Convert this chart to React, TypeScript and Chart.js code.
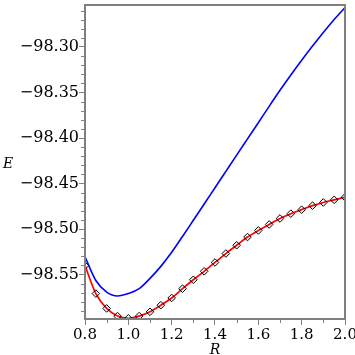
import React, { useEffect, useRef } from 'react';
import { Chart, registerables } from 'chart.js';

Chart.register(...registerables);

const rValues = [0.8, 0.85, 0.9, 0.95, 1.0, 1.05, 1.1, 1.15, 1.2, 1.25, 1.3, 1.35, 1.4, 1.45, 1.5, 1.55, 1.6, 1.65, 1.7, 1.75, 1.8, 1.85, 1.9, 1.95, 2.0];
const blueE = [-98.5305, -98.5565, -98.5692, -98.5735, -98.5709, -98.5655, -98.5542, -98.541, -98.5255, -98.5082, -98.4904, -98.4725, -98.4546, -98.4367, -98.4188, -98.401, -98.3832, -98.3652, -98.3476, -98.3308, -98.3146, -98.299, -98.284, -98.2698, -98.2566];
const redE = [-98.5402, -98.5709, -98.5872, -98.5956, -98.598, -98.5956, -98.5909, -98.5836, -98.5757, -98.5655, -98.5557, -98.5464, -98.5367, -98.5269, -98.5178, -98.5088, -98.5015, -98.495, -98.4884, -98.4831, -98.4787, -98.4743, -98.4708, -98.4679, -98.4651];

const xMajorTicks = [0.8, 1.0, 1.2, 1.4, 1.6, 1.8, 2.0];
const xMinorTicks = [0.9, 1.1, 1.3, 1.5, 1.7, 1.9];
const yMajorTicks = [-98.55, -98.5, -98.45, -98.4, -98.35, -98.3];
const yMinorTicks = [-98.59, -98.58, -98.57, -98.56, -98.54, -98.53, -98.52, -98.51, -98.49, -98.48, -98.47, -98.46, -98.44, -98.43, -98.42, -98.41, -98.39, -98.38, -98.37, -98.36, -98.34, -98.33, -98.32, -98.31, -98.29, -98.28, -98.27, -98.26];
const xRange = [0.8, 2.0];
const yRange = [-98.5988, -98.2539];
const xTitle = 'R';
const yTitle = 'E';

const AXIS_GRAY = '#808080';
const FONT = 'DejaVu Serif';

const framePlugin = {
  id: 'framePlugin',
  afterDraw(chart: any) {
    const { ctx, chartArea } = chart;
    const { left, right, top, bottom } = chartArea;
    const xs = chart.scales.x;
    const ys = chart.scales.y;
    ctx.save();
    ctx.strokeStyle = AXIS_GRAY;
    ctx.lineWidth = 2;
    ctx.strokeRect(Math.round(left), Math.round(top), Math.round(right) - Math.round(left), Math.round(bottom) - Math.round(top));
    ctx.lineWidth = 1;
    ctx.beginPath();
    for (const v of yMinorTicks) {
      const py = Math.round(ys.getPixelForValue(v)) + 0.5;
      ctx.moveTo(Math.round(left) - 4, py);
      ctx.lineTo(Math.round(left), py);
    }
    for (const v of xMinorTicks) {
      const px = Math.round(xs.getPixelForValue(v)) + 0.5;
      ctx.moveTo(px, Math.round(bottom));
      ctx.lineTo(px, Math.round(bottom) + 4);
    }
    ctx.stroke();
    ctx.fillStyle = '#000';
    ctx.font = `italic 14px "${FONT}"`;
    ctx.textAlign = 'center';
    ctx.textBaseline = 'middle';
    ctx.fillText(yTitle, 8, (top + bottom) / 2 + 2);
    ctx.fillText(xTitle, (left + right) / 2, 350);
    ctx.restore();
  },
};

export default function App() {
  const canvasRef = useRef<HTMLCanvasElement | null>(null);

  useEffect(() => {
    const canvas = canvasRef.current;
    if (!canvas) return;
    const chart = new Chart(canvas, {
      type: 'line',
      data: {
        datasets: [
          {
            label: 'red',
            data: rValues.map((r, i) => ({ x: r, y: redE[i] })),
            borderColor: '#ff0000',
            borderWidth: 1.7,
            cubicInterpolationMode: 'monotone',
            pointStyle: 'rectRot',
            pointRadius: 3.8,
            pointBorderColor: '#000000',
            pointBackgroundColor: 'rgba(255,255,255,0)',
            pointBorderWidth: 1,
            fill: false,
          },
          {
            label: 'blue',
            data: rValues.map((r, i) => ({ x: r, y: blueE[i] })),
            borderColor: '#0000ff',
            borderWidth: 1.6,
            cubicInterpolationMode: 'monotone',
            pointRadius: 0,
            fill: false,
          },
        ],
      },
      options: {
        animation: false,
        responsive: false,
        devicePixelRatio: 1,
        layout: { padding: { top: 1, right: 10, left: 0, bottom: 0 } },
        plugins: { legend: { display: false }, tooltip: { enabled: false }, title: { display: false } },
        scales: {
          x: {
            type: 'linear',
            min: xRange[0],
            max: xRange[1],
            afterBuildTicks: (s: any) => {
              s.ticks = xMajorTicks.map((value) => ({ value }));
            },
            afterFit: (s: any) => {
              s.height = 36;
              s.paddingLeft = 0;
              s.paddingRight = 0;
            },
            ticks: {
              autoSkip: false,
              maxRotation: 0,
              padding: 1,
              color: '#000',
              font: { family: FONT, size: 15 },
              callback: (v: any) => Number(v).toFixed(1),
            },
            grid: { drawOnChartArea: false, tickLength: 6, tickColor: AXIS_GRAY, tickWidth: 1 },
            border: { color: AXIS_GRAY, width: 2 },
          },
          y: {
            type: 'linear',
            min: yRange[0],
            max: yRange[1],
            afterBuildTicks: (s: any) => {
              s.ticks = yMajorTicks.map((value) => ({ value }));
            },
            afterFit: (s: any) => {
              s.width = 85;
              s.paddingTop = 0;
              s.paddingBottom = 0;
            },
            ticks: {
              autoSkip: false,
              padding: 0,
              color: '#000',
              font: { family: FONT, size: 16 },
              callback: (v: any) => '\u2212' + Math.abs(Number(v)).toFixed(2),
            },
            grid: { drawOnChartArea: false, tickLength: 6, tickColor: AXIS_GRAY, tickWidth: 1 },
            border: { color: AXIS_GRAY, width: 2 },
          },
        },
      },
      plugins: [framePlugin],
    } as any);
    return () => chart.destroy();
  }, []);

  return (
    <div style={{ position: 'fixed', left: 0, top: 0, width: 355, height: 355, background: '#fff' }}>
      <canvas ref={canvasRef} width={355} height={355} style={{ display: 'block' }} />
    </div>
  );
}
